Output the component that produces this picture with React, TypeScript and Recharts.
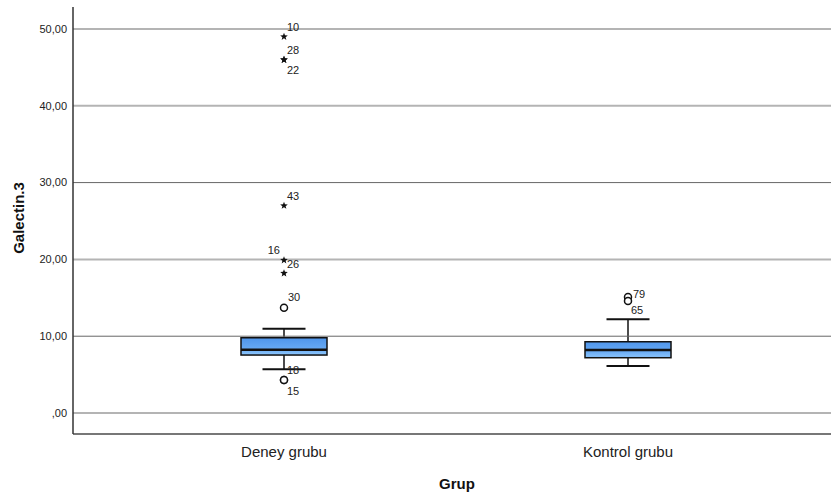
import { Bar, ComposedChart, ReferenceLine, Scatter, XAxis, YAxis } from "recharts";

const groups = ["Deney grubu", "Kontrol grubu"];
const whiskerLow = [5.69, 6.12];
const q1 = [7.55, 7.2];
const median = [8.24, 8.2];
const q3 = [9.8, 9.28];
const whiskerHigh = [10.98, 12.2];

const yTicks = [0, 10, 20, 30, 40, 50];

// outliers (SPSS case numbers), star = extreme, circle = mild
const outlierGroup = [0, 0, 0, 0, 0, 0, 0, 0, 0, 1, 1];
const outlierValue = [49.0, 46.0, 46.0, 27.0, 19.9, 18.2, 13.7, 4.3, 4.3, 15.1, 14.6];
const outlierCase = ["10", "28", "22", "43", "16", "26", "30", "18", "15", "79", "65"];
const outlierExtreme = [true, true, true, true, true, true, false, false, false, false, false];

const boxData = groups.map((name, i) => ({
  name,
  min: whiskerLow[i],
  q1: q1[i],
  median: median[i],
  q3: q3[i],
  max: whiskerHigh[i],
}));

const outlierData = outlierValue.map((value, i) => ({
  name: groups[outlierGroup[i]],
  value,
  id: outlierCase[i],
  extreme: outlierExtreme[i],
}));

// where SPSS put each case label, relative to the marker
const labelOffsets: Record<string, [number, number, "start" | "end"]> = {
  "10": [3, -6, "start"],
  "28": [3, -6, "start"],
  "22": [3, 14, "start"],
  "43": [3, -6, "start"],
  "16": [-4, -6, "end"],
  "26": [3, -5, "start"],
  "30": [4, -7, "start"],
  "18": [3, -6, "start"],
  "15": [3, 15, "start"],
  "79": [5, 1, "start"],
  "65": [3, 13, "start"],
};

const FONT = '"Liberation Sans", Arial, sans-serif';

const BoxShape = (props: any) => {
  const { x, y, width, height, payload, index } = props;
  const top = Math.min(y, y + height);
  const h = Math.abs(height);
  const k = h / (payload.max - payload.min);
  const toY = (v: number) => top + (payload.max - v) * k;
  const cx = x + width / 2;
  const cap = width / 4;
  const gid = `boxfill${index}`;
  return (
    <g>
      <defs>
        <linearGradient id={gid} x1="0" y1="0" x2="0" y2="1">
          <stop offset="0%" stopColor="#4f95ea" />
          <stop offset="55%" stopColor="#63a6f2" />
          <stop offset="100%" stopColor="#8cc5fb" />
        </linearGradient>
      </defs>
      <line x1={cx} x2={cx} y1={toY(payload.max)} y2={toY(payload.min)} stroke="#111" strokeWidth={1.5} />
      <line x1={cx - cap} x2={cx + cap} y1={toY(payload.max)} y2={toY(payload.max)} stroke="#111" strokeWidth={2} />
      <line x1={cx - cap} x2={cx + cap} y1={toY(payload.min)} y2={toY(payload.min)} stroke="#111" strokeWidth={2} />
      <rect
        x={x}
        y={toY(payload.q3)}
        width={width}
        height={toY(payload.q1) - toY(payload.q3)}
        fill={`url(#${gid})`}
        stroke="#111"
        strokeWidth={1.5}
      />
      <line x1={x} x2={x + width} y1={toY(payload.median)} y2={toY(payload.median)} stroke="#111" strokeWidth={2.5} />
    </g>
  );
};

const starPoints = (cx: number, cy: number, r: number, ri: number) => {
  const pts: string[] = [];
  for (let i = 0; i < 10; i++) {
    const a = -Math.PI / 2 + (i * Math.PI) / 5;
    const rr = i % 2 === 0 ? r : ri;
    pts.push(`${cx + rr * Math.cos(a)},${cy + rr * Math.sin(a)}`);
  }
  return pts.join(" ");
};

const OutlierShape = (props: any) => {
  const { cx, cy, payload } = props;
  const [dx, dy, anchor] = labelOffsets[payload.id] ?? [3, -6, "start"];
  return (
    <g>
      {payload.extreme ? (
        <polygon points={starPoints(cx, cy, 4, 1.7)} fill="#111" />
      ) : (
        <circle cx={cx} cy={cy} r={3.5} fill="#fff" stroke="#111" strokeWidth={1.5} />
      )}
      <text x={cx + dx} y={cy + dy} textAnchor={anchor} fontSize={11} fontFamily={FONT} fill="#222">
        {payload.id}
      </text>
    </g>
  );
};

const fmt = (v: number) => (v === 0 ? ",00" : `${v},00`);

export default function App() {
  return (
    <div style={{ width: 831, height: 494, background: "#fff" }}>
      <style>{"body{margin:0}"}</style>
      <ComposedChart
        width={831}
        height={494}
        data={boxData}
        margin={{ top: 7, right: 0, bottom: 0, left: 0 }}
      >
        {yTicks.map((t) => (
          <ReferenceLine
            key={t}
            y={t}
            stroke={t === 10 || t === 30 ? "#666" : "#b4b4b4"}
            strokeWidth={t === 10 || t === 30 ? 1 : 2}
          />
        ))}
        <XAxis
          dataKey="name"
          type="category"
          allowDuplicatedCategory={false}
          height={60}
          padding={{ left: 39, right: 31 }}
          tickLine={false}
          tickSize={0}
          tickMargin={12}
          axisLine={{ stroke: "#777", strokeWidth: 2 }}
          tick={{ fontSize: 15, fill: "#222", fontFamily: FONT }}
          label={{
            content: () => (
              <text x={457} y={489} textAnchor="middle" fontSize={15} fontWeight="bold" fontFamily={FONT} fill="#111">
                Grup
              </text>
            ),
          }}
        />
        <YAxis
          type="number"
          width={73}
          domain={[-2.73, 52.86]}
          allowDataOverflow
          ticks={yTicks}
          tickFormatter={fmt}
          tickLine={false}
          tickSize={0}
          tickMargin={6}
          axisLine={{ stroke: "#333", strokeWidth: 1.5 }}
          tick={{ fontSize: 11, fill: "#222", fontFamily: FONT }}
          label={{
            content: () => (
              <text
                x={24}
                y={218}
                transform="rotate(-90 24 218)"
                textAnchor="middle"
                fontSize={15}
                fontWeight="bold"
                fontFamily={FONT}
                fill="#111"
              >
                Galectin.3
              </text>
            ),
          }}
        />
        <Bar
          dataKey={(d: any) => [d.min, d.max]}
          barSize={86}
          shape={BoxShape}
          isAnimationActive={false}
        />
        <Scatter
          data={outlierData}
          dataKey="value"
          shape={OutlierShape}
          isAnimationActive={false}
        />
      </ComposedChart>
    </div>
  );
}
